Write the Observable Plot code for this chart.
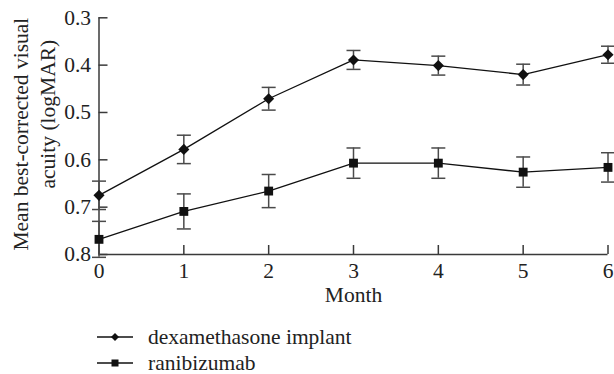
<!DOCTYPE html>
<html>
<head>
<meta charset="utf-8">
<script src="https://cdn.jsdelivr.net/npm/d3@7"></script>
<script src="https://cdn.jsdelivr.net/npm/@observablehq/plot@0.6"></script>
<style>
  html, body { margin: 0; padding: 0; background: #fff; }
  #chart { width: 614px; }
  #legend { font-family: "Liberation Serif", serif; font-size: 21.5px; color: #222; margin-left: 97px; padding-top: 10px; }
  #legend .row { height: 26px; display: flex; align-items: center; }
  #legend .row span { margin-left: 15px; }
</style>
</head>
<body>
<div id="chart"></div>
<script>
const months = [0, 1, 2, 3, 4, 5, 6];
const dexMean = [0.675, 0.578, 0.471, 0.389, 0.401, 0.420, 0.378];
const dexErr  = [0.030, 0.030, 0.024, 0.020, 0.020, 0.022, 0.018];
const ranMean = [0.768, 0.709, 0.666, 0.607, 0.607, 0.626, 0.616];
const ranErr  = [0.038, 0.037, 0.035, 0.032, 0.032, 0.032, 0.031];
const yTicks = [0.3, 0.4, 0.5, 0.6, 0.7, 0.8];
const seriesNames = ["dexamethasone implant", "ranibizumab"];
const yLabelLines = ["Mean best-corrected visual", "acuity (logMAR)"];
const xLabel = "Month";

const rows = [];
months.forEach((m, i) => {
  rows.push({series: seriesNames[0], month: m, mean: dexMean[i], lo: dexMean[i] - dexErr[i], hi: dexMean[i] + dexErr[i]});
  rows.push({series: seriesNames[1], month: m, mean: ranMean[i], lo: ranMean[i] - ranErr[i], hi: ranMean[i] + ranErr[i]});
});
const dex = rows.filter(d => d.series === seriesNames[0]);
const ran = rows.filter(d => d.series === seriesNames[1]);

const capSymbol = {draw(context, size) { const w = 7; context.moveTo(-w, 0); context.lineTo(w, 0); }};
const font = "Liberation Serif, serif";
const errColor = "#4a4a4a";
const axisColor = "#3a3a3a";
const fs = 21.5;

const plot = Plot.plot({
  width: 614,
  height: 314,
  marginLeft: 98.5,
  marginRight: 6.5,
  marginTop: 17.3,
  marginBottom: 60,
  style: {fontFamily: font, fontSize: fs + "px", color: "#222", background: "#fff"},
  x: {domain: [0, 6]},
  y: {domain: [0.3, 0.8], reverse: true},
  marks: [
    Plot.axisY({ticks: yTicks, tickFormat: d3.format(".1f"), tickSize: -9, tickPadding: 17, label: null, stroke: axisColor, strokeWidth: 1.5, fontSize: fs}),
    Plot.axisX({ticks: months, tickFormat: d3.format("d"), tickSize: -9, tickPadding: 17, label: null, stroke: axisColor, strokeWidth: 1.5, fontSize: fs}),
    Plot.ruleX([months[0]], {stroke: axisColor, strokeWidth: 1.5}),
    Plot.ruleY([yTicks[yTicks.length - 1]], {stroke: axisColor, strokeWidth: 1.5}),
    Plot.text([yLabelLines[0]], {frameAnchor: "left", textAnchor: "middle", lineAnchor: "middle", rotate: -90, dx: -78, dy: -2, fontSize: fs, fill: "#222"}),
    Plot.text([yLabelLines[1]], {frameAnchor: "left", textAnchor: "middle", lineAnchor: "middle", rotate: -90, dx: -51, dy: -22, fontSize: fs, fill: "#222"}),
    Plot.text([xLabel], {frameAnchor: "bottom", dy: 47, fontSize: fs, fill: "#222"}),
    Plot.ruleX(rows, {x: "month", y1: "lo", y2: "hi", stroke: errColor, strokeWidth: 1.5}),
    Plot.dot(rows, {x: "month", y: "lo", symbol: capSymbol, stroke: errColor, strokeWidth: 1.5, r: 3}),
    Plot.dot(rows, {x: "month", y: "hi", symbol: capSymbol, stroke: errColor, strokeWidth: 1.5, r: 3}),
    Plot.line(dex, {x: "month", y: "mean", stroke: "#111", strokeWidth: 1.3}),
    Plot.line(ran, {x: "month", y: "mean", stroke: "#111", strokeWidth: 1.3}),
    Plot.dot(dex, {x: "month", y: "mean", symbol: "diamond2", r: 5, fill: "#111", stroke: "none"}),
    Plot.dot(ran, {x: "month", y: "mean", symbol: "square", r: 5, fill: "#111", stroke: "none"})
  ]
});
document.getElementById("chart").appendChild(plot);

const legend = document.createElement("div");
legend.id = "legend";
const shapes = [
  '<polygon points="18,2 22,6 18,10 14,6" fill="#111"/>',
  '<rect x="14.5" y="2.5" width="7" height="7" fill="#111"/>'
];
seriesNames.forEach((name, i) => {
  const row = document.createElement("div");
  row.className = "row";
  row.innerHTML = '<svg width="36" height="12"><line x1="0" y1="6" x2="36" y2="6" stroke="#111" stroke-width="1.3"/>' + shapes[i] + '</svg><span>' + name + '</span>';
  legend.appendChild(row);
});
document.body.appendChild(legend);
</script>
</body>
</html>
